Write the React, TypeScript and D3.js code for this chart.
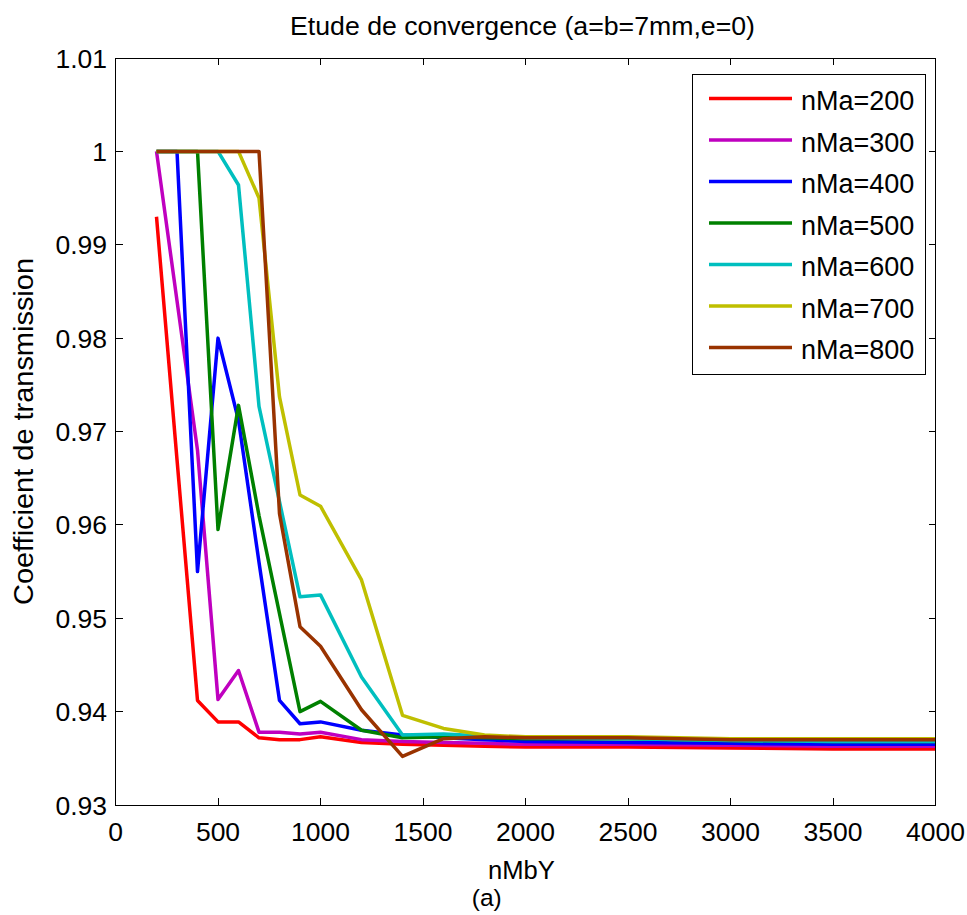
import React from "react";
import * as d3 from "d3";

const xValues = [200, 300, 400, 500, 600, 700, 800, 900, 1000, 1200, 1400, 1600, 1800, 2000, 2500, 3000, 3500, 4000];

const seriesNames = ["nMa=200", "nMa=300", "nMa=400", "nMa=500", "nMa=600", "nMa=700", "nMa=800"];

const nMa200 = [0.993, 0.967, 0.9412, 0.9389, 0.9389, 0.9372, 0.937, 0.937, 0.9373, 0.9367, 0.9365, 0.9364, 0.9363, 0.9362, 0.9362, 0.9361, 0.936, 0.936];
const nMa300 = [1.0, 0.984, 0.968, 0.9413, 0.9444, 0.9378, 0.9378, 0.9376, 0.9378, 0.937, 0.9368, 0.9367, 0.9366, 0.9365, 0.9365, 0.9364, 0.9363, 0.9363];
const nMa400 = [1.0, 1.0, 0.955, 0.98, 0.9712, 0.956, 0.9412, 0.9387, 0.9389, 0.938, 0.9375, 0.9372, 0.937, 0.9368, 0.9367, 0.9366, 0.9365, 0.9365];
const nMa500 = [1.0, 1.0, 1.0, 0.9595, 0.9728, 0.961, 0.9505, 0.94, 0.9411, 0.938, 0.9372, 0.9373, 0.9372, 0.9371, 0.9371, 0.9369, 0.9368, 0.9368];
const nMa600 = [1.0, 1.0, 1.0, 1.0, 0.9964, 0.9727, 0.9625, 0.9523, 0.9525, 0.9437, 0.9375, 0.9376, 0.9374, 0.9372, 0.9371, 0.9369, 0.9368, 0.9368];
const nMa700 = [1.0, 1.0, 1.0, 1.0, 1.0, 0.995, 0.9737, 0.9632, 0.962, 0.9541, 0.9396, 0.9382, 0.9375, 0.9373, 0.9373, 0.9371, 0.9371, 0.9371];
const nMa800 = [1.0, 1.0, 1.0, 1.0, 1.0, 1.0, 0.9612, 0.9491, 0.947, 0.9402, 0.9352, 0.9371, 0.9373, 0.9372, 0.9372, 0.937, 0.937, 0.937];

const seriesValues = [nMa200, nMa300, nMa400, nMa500, nMa600, nMa700, nMa800];
const colors = ["#ff0000", "#bf00bf", "#0000ff", "#008000", "#00bfbf", "#bfbf00", "#993300"];

const xTicks = [0, 500, 1000, 1500, 2000, 2500, 3000, 3500, 4000];
const yTicks = [0.93, 0.94, 0.95, 0.96, 0.97, 0.98, 0.99, 1.0, 1.01];
const yTickLabels = ["0.93", "0.94", "0.95", "0.96", "0.97", "0.98", "0.99", "1", "1.01"];

const W = 967;
const H = 915;
const L = 115.5, R = 935.5, T = 58, B = 805;
const FONT = "'Liberation Sans', Arial, Helvetica, sans-serif";

export default function App() {
  const x = d3.scaleLinear().domain([0, 4000]).range([L, R]);
  const y = d3.scaleLinear().domain([0.93, 1.01]).range([B, T]);
  const line = d3
    .line<number>()
    .x((_, i) => x(xValues[i]))
    .y((d) => y(d));

  const tickLen = 7;

  return (
    <svg
      width={W}
      height={H}
      style={{ position: "absolute", left: 0, top: 0, background: "#fff" }}
      fontFamily={FONT}
    >
      <rect x={0} y={0} width={W} height={H} fill="#fff" />
      <text x={522.5} y={35} fontSize={25} textAnchor="middle" textLength={465} lengthAdjust="spacingAndGlyphs">
        Etude de convergence (a=b=7mm,e=0)
      </text>

      <defs>
        <clipPath id="clip">
          <rect x={L} y={T - 3} width={R - L} height={B - T + 3} />
        </clipPath>
      </defs>
      <g clipPath="url(#clip)">
        {seriesValues.map((vals, k) => (
          <path
            key={k}
            d={line(vals) || ""}
            fill="none"
            stroke={colors[k]}
            strokeWidth={3.5}
            strokeLinejoin="round"
          />
        ))}
      </g>

      <rect x={L} y={T} width={R - L} height={B - T} fill="none" stroke="#000" strokeWidth={1} shapeRendering="crispEdges" />

      {xTicks.map((t) => (
        <g key={"x" + t} shapeRendering="crispEdges">
          <line x1={x(t)} x2={x(t)} y1={B} y2={B - tickLen} stroke="#000" />
          <line x1={x(t)} x2={x(t)} y1={T} y2={T + tickLen} stroke="#000" />
          <text x={x(t)} y={841} fontSize={26.5} textAnchor="middle">
            {String(t)}
          </text>
        </g>
      ))}

      {yTicks.map((t, i) => (
        <g key={"y" + t} shapeRendering="crispEdges">
          <line x1={L} x2={L + tickLen} y1={y(t)} y2={y(t)} stroke="#000" />
          <line x1={R} x2={R - tickLen} y1={y(t)} y2={y(t)} stroke="#000" />
          <text x={107} y={y(t) + 9.5} fontSize={26.5} textAnchor="end">
            {yTickLabels[i]}
          </text>
        </g>
      ))}

      <text x={521.5} y={879} fontSize={25.6} textAnchor="middle">
        nMbY
      </text>
      <text x={486.7} y={906} fontSize={24.5} textAnchor="middle">
        (a)
      </text>
      <text
        transform="translate(33,431.5) rotate(-90)"
        fontSize={28}
        textAnchor="middle"
        textLength={347}
        lengthAdjust="spacingAndGlyphs"
      >
        Coefficient de transmission
      </text>

      <rect x={692.5} y={74.5} width={233} height={300} fill="#fff" stroke="#000" strokeWidth={1} shapeRendering="crispEdges" />
      {seriesNames.map((name, i) => {
        const ly = 98.5 + i * 41.5;
        return (
          <g key={name}>
            <line x1={709} x2={792} y1={ly} y2={ly} stroke={colors[i]} strokeWidth={3.5} />
            <text x={801} y={ly + 11.5} fontSize={27}>
              {name}
            </text>
          </g>
        );
      })}
    </svg>
  );
}
